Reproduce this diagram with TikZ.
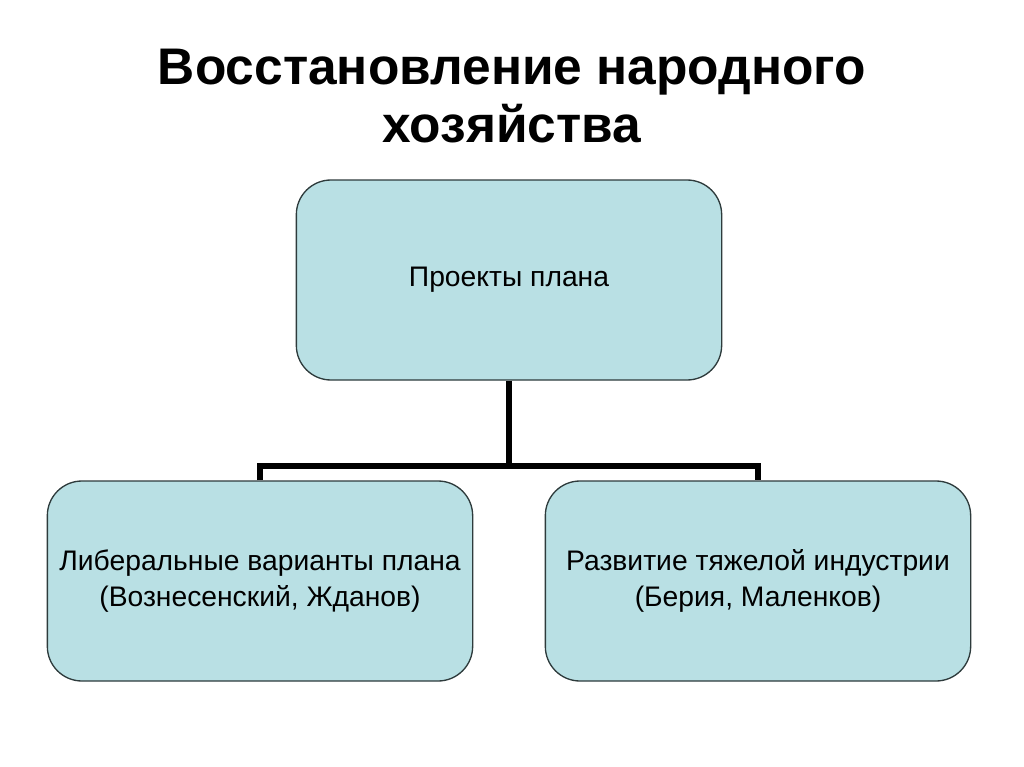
\documentclass[tikz,border=0pt]{standalone}
\usepackage{fontspec}
\setmainfont{Liberation Sans}
\usepackage{xcolor}
\usepackage{tikz}
\definecolor{boxfill}{HTML}{B9E0E4}
\definecolor{boxline}{HTML}{2E3B3C}

\begin{document}
\begin{tikzpicture}[x=0.75pt,y=-0.75pt,
            plan/.style = {rectangle, rounded corners=26pt,
                        draw=boxline, line width=1pt, fill=boxfill,
                        minimum width=319pt, minimum height=150pt,
                        align=center, font=\fontsize{21.2}{27}\selectfont},
            link/.style = {line width=4.5pt}]
            \useasboundingbox (0,0) rectangle (1024,767);
            % Title
            \node[align=center, font=\fontsize{38.6}{43}\selectfont\bfseries] (title) at (512,96)
                {Восстановление народного\\хозяйства};
            % Top box
            \node[plan] (proj) at (509,280) {Проекты плана};
            % Bottom boxes
            \node[plan] (lib) at (260,581) {Либеральные варианты плана\\(Вознесенский, Жданов)};
            \node[plan] (ind) at (758,581) {Развитие тяжелой индустрии\\(Берия, Маленков)};
            % Connectors
            \coordinate (fork) at (509,466);
            \draw[link] (proj.south) -- (fork);
            \draw[link] (lib.north) |- (fork) -| (ind.north);
        \end{tikzpicture}
\end{document}
